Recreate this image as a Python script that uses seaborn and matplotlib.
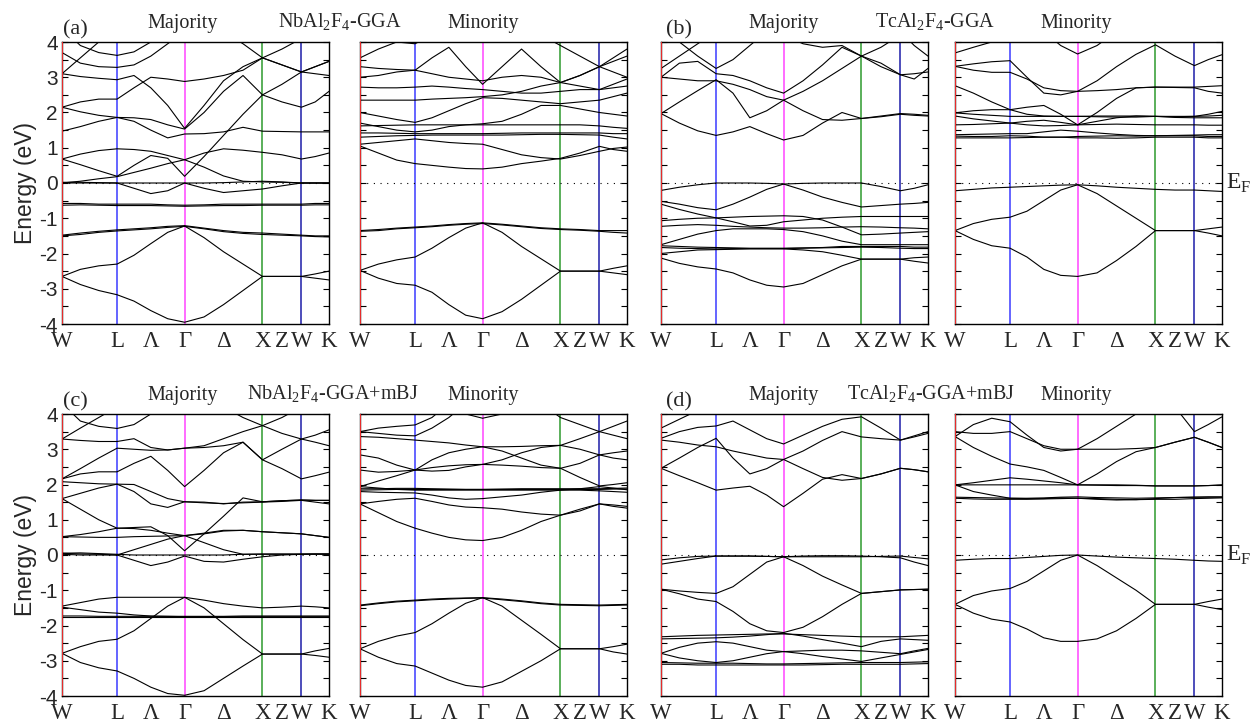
import numpy as np
import pandas as pd
import matplotlib
matplotlib.use('Agg')
import matplotlib.pyplot as plt
from matplotlib.ticker import MultipleLocator
import seaborn as sns

sns.set_theme(style='white')
plt.rcParams['font.family'] = ['Liberation Serif', 'DejaVu Serif']
plt.rcParams['mathtext.fontset'] = 'custom'
plt.rcParams['mathtext.rm'] = 'Liberation Serif'
plt.rcParams['axes.unicode_minus'] = False

# fcc path W-L-Gamma-X-W-K, segment lengths (2pi/a)
seg_len = [0.7071, 0.8660, 1.0, 0.5, 0.3536]
# where the band energies were read along each segment
seg_frac = [[0, 1/3, 2/3], [0, 1/4, 1/2, 3/4], [0, 1/4, 1/2, 3/4], [0, 1/2], [0, 1/2, 1]]
k_labels = ['W', 'L', 'Λ', 'Γ', 'Δ', 'X', 'Z', 'W', 'K']

# band energies (eV) at the 16 sampled k-points: W .. L .. G .. X Z W . K
a_maj = [
    [-2.65, -2.88, -3.05, -3.17, -3.35, -3.62, -3.85, -3.95, -3.8, -3.45, -3.05, -2.65, -2.65, -2.65, -2.7, -2.75],
    [-2.65, -2.45, -2.35, -2.3, -2.05, -1.72, -1.4, -1.22, -1.55, -1.95, -2.3, -2.65, -2.65, -2.65, -2.58, -2.5],
    [-1.48, -1.42, -1.37, -1.33, -1.3, -1.27, -1.23, -1.21, -1.28, -1.35, -1.4, -1.42, -1.45, -1.48, -1.5, -1.5],
    [-1.5, -1.46, -1.4, -1.36, -1.33, -1.3, -1.26, -1.23, -1.3, -1.38, -1.43, -1.46, -1.48, -1.5, -1.52, -1.53],
    [-0.58, -0.58, -0.6, -0.6, -0.6, -0.6, -0.62, -0.63, -0.62, -0.6, -0.6, -0.6, -0.6, -0.6, -0.58, -0.58],
    [-0.63, -0.62, -0.63, -0.64, -0.64, -0.64, -0.65, -0.66, -0.65, -0.64, -0.64, -0.63, -0.63, -0.63, -0.62, -0.62],
    [0.02, 0.02, 0.01, 0.0, 0.0, 0.0, 0.0, 0.0, 0.0, 0.01, 0.03, 0.05, 0.03, 0.0, 0.0, 0.0],
    [0.0, 0.0, 0.0, 0.0, -0.15, -0.3, -0.22, 0.0, -0.15, -0.27, -0.22, -0.17, -0.08, 0.0, 0.0, 0.0],
    [0.0, 0.05, 0.12, 0.18, 0.3, 0.42, 0.55, 0.66, 0.45, 0.2, 0.05, 0.03, 0.02, 0.0, 0.0, 0.0],
    [0.68, 0.52, 0.35, 0.19, 0.5, 0.78, 0.7, 0.19, 0.75, 1.35, 1.95, 2.5, 2.8, 3.15, 3.3, 3.45],
    [0.68, 0.82, 0.92, 0.97, 0.95, 0.9, 0.78, 0.66, 0.85, 0.97, 0.93, 0.87, 0.8, 0.68, 0.75, 0.85],
    [1.47, 1.6, 1.75, 1.86, 1.75, 1.5, 1.28, 1.39, 1.4, 1.45, 1.58, 1.47, 1.46, 1.45, 1.45, 1.45],
    [2.15, 2.02, 1.92, 1.86, 1.85, 1.8, 1.65, 1.53, 2.0, 2.6, 3.05, 2.5, 2.3, 2.15, 2.3, 2.6],
    [2.15, 2.3, 2.38, 2.38, 2.7, 3.0, 2.95, 2.88, 2.95, 3.05, 3.2, 3.55, 3.35, 3.15, 3.1, 3.05],
    [3.1, 3.02, 2.97, 2.93, 3.05, 2.7, 2.2, 1.55, 2.2, 2.9, 3.3, 3.55, 3.8, 4.1, 4.3, 4.5],
    [3.1, 3.55, 4.0, 4.4, 4.5, 4.5, 4.5, 4.5, 4.5, 4.5, 4.5, 4.5, 4.5, 4.5, 4.5, 4.5],
    [4.4, 3.9, 3.7, 3.62, 3.72, 4.0, 4.4, 4.5, 4.5, 4.5, 4.5, 4.5, 4.5, 4.5, 4.5, 4.5],
    [3.7, 3.4, 3.3, 3.28, 3.35, 3.6, 3.95, 4.3, 4.5, 4.5, 4.5, 4.5, 4.5, 4.5, 4.5, 4.5],
    [4.5, 4.5, 4.5, 4.5, 4.5, 4.5, 4.5, 4.5, 4.5, 4.3, 3.95, 3.55, 3.35, 3.15, 3.3, 3.45],
]
a_min = [
    [-2.48, -2.7, -2.85, -2.9, -3.1, -3.45, -3.75, -3.85, -3.65, -3.3, -2.9, -2.5, -2.5, -2.5, -2.55, -2.6],
    [-2.48, -2.3, -2.18, -2.1, -1.85, -1.55, -1.28, -1.13, -1.4, -1.8, -2.15, -2.5, -2.5, -2.5, -2.42, -2.35],
    [-1.35, -1.32, -1.28, -1.25, -1.22, -1.18, -1.15, -1.13, -1.17, -1.22, -1.27, -1.3, -1.32, -1.35, -1.35, -1.35],
    [-1.37, -1.35, -1.3, -1.27, -1.24, -1.2, -1.17, -1.15, -1.19, -1.24, -1.29, -1.32, -1.34, -1.37, -1.4, -1.42],
    [1.05, 0.85, 0.65, 0.55, 0.5, 0.45, 0.41, 0.4, 0.45, 0.55, 0.62, 0.7, 0.85, 1.04, 0.95, 0.9],
    [1.1, 1.15, 1.2, 1.25, 1.2, 1.15, 1.12, 1.1, 0.95, 0.8, 0.72, 0.68, 0.78, 0.9, 0.98, 1.02],
    [1.3, 1.32, 1.34, 1.35, 1.36, 1.36, 1.36, 1.36, 1.36, 1.37, 1.38, 1.38, 1.37, 1.36, 1.3, 1.25],
    [1.42, 1.42, 1.41, 1.4, 1.4, 1.4, 1.4, 1.4, 1.41, 1.42, 1.42, 1.42, 1.42, 1.42, 1.4, 1.4],
    [1.62, 1.63, 1.64, 1.65, 1.65, 1.65, 1.65, 1.65, 1.65, 1.65, 1.65, 1.65, 1.65, 1.62, 1.58, 1.55],
    [1.7, 1.6, 1.5, 1.45, 1.5, 1.6, 1.65, 1.68, 1.75, 1.95, 2.2, 2.2, 2.1, 2.0, 1.95, 1.9],
    [2.0, 1.9, 1.8, 1.72, 1.85, 2.05, 2.25, 2.42, 2.4, 2.35, 2.3, 2.25, 2.3, 2.35, 2.45, 2.55],
    [2.35, 2.35, 2.35, 2.35, 2.38, 2.4, 2.42, 2.45, 2.5, 2.6, 2.75, 2.85, 2.75, 2.65, 2.7, 2.75],
    [2.72, 2.7, 2.7, 2.72, 2.75, 2.72, 2.68, 2.65, 2.6, 2.55, 2.55, 2.6, 2.65, 2.65, 2.8, 2.95],
    [3.0, 3.05, 3.15, 3.2, 3.55, 3.85, 3.3, 2.8, 3.3, 3.8, 3.3, 2.85, 3.05, 3.3, 3.45, 3.6],
    [3.3, 3.25, 3.22, 3.2, 3.1, 3.0, 2.95, 2.9, 3.0, 3.05, 3.0, 2.85, 3.05, 3.3, 3.15, 3.0],
    [3.55, 3.8, 4.0, 3.95, 4.2, 4.5, 4.5, 4.5, 4.5, 4.5, 4.2, 3.9, 3.6, 3.3, 3.55, 3.8],
]
b_maj = [
    [-0.21, -0.12, -0.05, 0.0, 0.0, 0.0, -0.01, -0.03, -0.01, 0.0, 0.0, 0.0, -0.1, -0.22, -0.15, -0.05],
    [-0.52, -0.6, -0.7, -0.76, -0.6, -0.4, -0.18, -0.03, -0.2, -0.4, -0.55, -0.68, -0.64, -0.6, -0.58, -0.55],
    [-0.6, -0.75, -0.88, -0.99, -1.1, -1.22, -1.2, -1.1, -1.05, -1.0, -0.97, -0.95, -0.95, -0.95, -0.95, -0.95],
    [-1.07, -1.03, -1.0, -0.99, -0.97, -0.95, -0.94, -0.93, -0.95, -1.05, -1.25, -1.47, -1.45, -1.42, -1.4, -1.38],
    [-1.23, -1.2, -1.18, -1.2, -1.23, -1.25, -1.27, -1.28, -1.28, -1.27, -1.25, -1.24, -1.25, -1.27, -1.28, -1.3],
    [-1.75, -1.6, -1.45, -1.35, -1.3, -1.3, -1.3, -1.32, -1.38, -1.5, -1.65, -1.75, -1.75, -1.75, -1.75, -1.75],
    [-1.78, -1.8, -1.82, -1.83, -1.84, -1.85, -1.85, -1.85, -1.84, -1.83, -1.8, -1.8, -1.8, -1.8, -1.82, -1.82],
    [-1.83, -1.85, -1.86, -1.87, -1.86, -1.86, -1.86, -1.86, -1.85, -1.84, -1.83, -1.82, -1.83, -1.85, -1.86, -1.86],
    [-2.0, -1.95, -1.9, -1.89, -1.88, -1.87, -1.87, -1.87, -1.9, -1.95, -2.05, -2.16, -2.16, -2.16, -2.12, -2.1],
    [-2.13, -2.28, -2.38, -2.44, -2.55, -2.75, -2.9, -2.95, -2.85, -2.6, -2.35, -2.16, -2.16, -2.16, -2.22, -2.27],
    [1.97, 1.7, 1.48, 1.35, 1.45, 1.6, 1.4, 1.22, 1.35, 1.7, 2.0, 1.83, 1.88, 1.95, 1.92, 1.9],
    [1.97, 2.3, 2.62, 2.93, 2.55, 1.85, 2.05, 2.35, 2.05, 1.8, 1.78, 1.83, 1.9, 1.97, 1.95, 1.92],
    [3.0, 2.95, 2.9, 2.9, 2.8, 2.65, 2.45, 2.35, 2.6, 2.9, 3.25, 3.6, 3.3, 3.07, 3.1, 3.15],
    [3.0, 3.4, 3.45, 3.1, 3.05, 2.9, 2.7, 2.55, 2.9, 3.35, 3.85, 3.6, 3.4, 3.07, 2.95, 3.25],
    [3.25, 3.6, 3.95, 4.3, 4.5, 4.5, 4.5, 4.5, 4.5, 4.5, 4.5, 4.5, 4.5, 4.3, 3.9, 3.6],
    [4.4, 4.0, 3.6, 3.25, 3.5, 3.9, 4.3, 4.5, 4.5, 4.5, 4.5, 4.5, 4.5, 4.5, 4.5, 4.5],
    [4.5, 4.5, 4.5, 4.5, 4.5, 4.5, 4.5, 4.2, 3.95, 3.85, 3.9, 3.6, 3.85, 4.2, 4.5, 4.5],
]
b_min = [
    [-0.22, -0.18, -0.14, -0.12, -0.1, -0.08, -0.06, -0.05, -0.08, -0.12, -0.15, -0.18, -0.2, -0.2, -0.22, -0.24],
    [-1.35, -1.15, -1.03, -0.97, -0.8, -0.5, -0.2, -0.05, -0.3, -0.65, -1.0, -1.35, -1.35, -1.35, -1.3, -1.25],
    [-1.35, -1.6, -1.78, -1.85, -2.1, -2.45, -2.62, -2.65, -2.55, -2.2, -1.8, -1.35, -1.35, -1.35, -1.42, -1.5],
    [1.28, 1.28, 1.28, 1.28, 1.29, 1.3, 1.3, 1.28, 1.28, 1.27, 1.28, 1.3, 1.3, 1.3, 1.28, 1.28],
    [1.33, 1.32, 1.32, 1.34, 1.33, 1.3, 1.3, 1.32, 1.33, 1.34, 1.33, 1.34, 1.34, 1.34, 1.32, 1.32],
    [1.37, 1.38, 1.39, 1.4, 1.4, 1.45, 1.5, 1.47, 1.42, 1.38, 1.35, 1.34, 1.35, 1.36, 1.37, 1.37],
    [1.65, 1.66, 1.68, 1.7, 1.75, 1.78, 1.72, 1.65, 1.66, 1.67, 1.66, 1.65, 1.65, 1.65, 1.64, 1.64],
    [1.9, 1.82, 1.76, 1.7, 1.65, 1.62, 1.63, 1.65, 1.75, 1.85, 1.9, 1.89, 1.88, 1.89, 1.9, 1.92],
    [1.99, 1.95, 1.92, 1.89, 1.89, 1.89, 1.89, 1.89, 1.9, 1.9, 1.9, 1.89, 1.86, 1.85, 1.85, 1.85],
    [1.99, 2.05, 2.08, 2.08, 2.15, 2.2, 1.95, 1.65, 2.0, 2.4, 2.7, 2.72, 2.71, 2.7, 2.6, 2.55],
    [2.76, 2.55, 2.3, 2.08, 1.95, 1.9, 1.89, 1.89, 1.88, 1.87, 1.87, 1.89, 1.89, 1.89, 1.95, 2.03],
    [3.31, 3.2, 3.14, 3.14, 2.95, 2.7, 2.62, 2.6, 2.62, 2.65, 2.7, 2.72, 2.72, 2.72, 2.74, 2.76],
    [3.31, 3.38, 3.44, 3.47, 3.0, 2.55, 2.5, 2.6, 2.9, 3.3, 3.65, 3.92, 3.6, 3.33, 3.5, 3.64],
    [4.5, 4.5, 4.5, 4.5, 4.5, 4.3, 3.9, 3.66, 3.9, 4.3, 4.5, 4.5, 4.5, 4.5, 4.5, 4.5],
    [3.69, 3.85, 4.0, 4.2, 4.5, 4.5, 4.5, 4.5, 4.5, 4.5, 4.5, 4.5, 4.5, 4.5, 4.5, 4.5],
]
c_maj = [
    [-2.79, -3.05, -3.2, -3.29, -3.5, -3.75, -3.93, -3.98, -3.85, -3.5, -3.15, -2.81, -2.81, -2.81, -2.85, -2.9],
    [-2.79, -2.6, -2.45, -2.39, -2.15, -1.8, -1.45, -1.2, -1.5, -1.95, -2.4, -2.81, -2.81, -2.81, -2.72, -2.65],
    [-1.45, -1.35, -1.25, -1.2, -1.2, -1.2, -1.2, -1.2, -1.28, -1.38, -1.45, -1.5, -1.48, -1.45, -1.47, -1.5],
    [-1.48, -1.55, -1.62, -1.65, -1.7, -1.73, -1.74, -1.75, -1.75, -1.75, -1.75, -1.75, -1.75, -1.75, -1.75, -1.75],
    [-1.73, -1.73, -1.74, -1.74, -1.74, -1.74, -1.74, -1.74, -1.74, -1.74, -1.73, -1.73, -1.73, -1.73, -1.73, -1.73],
    [-1.77, -1.77, -1.77, -1.77, -1.77, -1.77, -1.77, -1.77, -1.77, -1.77, -1.77, -1.77, -1.77, -1.77, -1.77, -1.77],
    [0.05, 0.06, 0.04, 0.02, 0.0, 0.0, 0.0, 0.0, 0.0, 0.0, 0.02, 0.03, 0.03, 0.03, 0.03, 0.03],
    [0.05, 0.03, 0.02, 0.0, -0.15, -0.3, -0.2, -0.03, -0.18, -0.2, -0.12, -0.05, 0.0, 0.02, 0.03, 0.03],
    [0.02, 0.0, 0.0, 0.0, 0.15, 0.3, 0.45, 0.55, 0.35, 0.15, 0.02, 0.02, 0.02, 0.02, 0.02, 0.02],
    [0.52, 0.51, 0.5, 0.5, 0.52, 0.53, 0.54, 0.55, 0.62, 0.7, 0.7, 0.66, 0.63, 0.6, 0.55, 0.5],
    [0.52, 0.58, 0.66, 0.76, 0.78, 0.8, 0.55, 0.12, 0.6, 1.1, 1.62, 1.51, 1.54, 1.56, 1.55, 1.55],
    [1.6, 1.3, 1.0, 0.76, 0.75, 0.7, 0.62, 0.55, 0.6, 0.68, 0.7, 0.66, 0.63, 0.6, 0.55, 0.5],
    [1.6, 1.75, 1.9, 2.01, 1.8, 1.45, 1.35, 1.51, 1.5, 1.45, 1.5, 1.51, 1.54, 1.56, 1.55, 1.55],
    [2.08, 2.05, 2.02, 2.01, 2.0, 1.8, 1.6, 1.51, 1.48, 1.46, 1.48, 1.5, 1.52, 1.55, 1.5, 1.45],
    [2.16, 2.3, 2.36, 2.36, 2.6, 2.8, 2.4, 1.94, 2.4, 2.9, 3.2, 2.7, 2.45, 2.16, 2.25, 2.35],
    [2.16, 2.45, 2.75, 3.03, 3.0, 2.97, 2.98, 3.03, 3.05, 3.1, 3.2, 2.7, 3.0, 3.29, 3.2, 3.1],
    [3.29, 3.25, 3.22, 3.22, 3.3, 3.05, 2.98, 3.03, 3.1, 3.3, 3.5, 3.67, 3.45, 3.29, 3.4, 3.55],
    [3.29, 3.6, 3.9, 4.2, 4.5, 4.5, 4.5, 4.5, 4.5, 4.5, 4.5, 4.5, 4.5, 4.5, 4.5, 4.5],
    [4.3, 3.8, 3.65, 3.59, 3.7, 4.0, 4.4, 4.5, 4.5, 4.5, 4.5, 4.5, 4.5, 4.5, 4.5, 4.5],
    [4.5, 4.5, 4.5, 4.5, 4.5, 4.5, 4.5, 4.5, 4.5, 4.2, 3.9, 3.67, 3.9, 4.2, 4.5, 4.5],
]
c_min = [
    [-2.66, -2.9, -3.08, -3.15, -3.35, -3.55, -3.7, -3.75, -3.6, -3.3, -3.0, -2.66, -2.66, -2.66, -2.75, -2.81],
    [-2.66, -2.45, -2.3, -2.2, -1.95, -1.65, -1.37, -1.21, -1.45, -1.85, -2.25, -2.66, -2.66, -2.66, -2.6, -2.53],
    [-1.42, -1.36, -1.31, -1.28, -1.25, -1.23, -1.22, -1.21, -1.25, -1.3, -1.36, -1.4, -1.41, -1.42, -1.41, -1.4],
    [-1.44, -1.38, -1.33, -1.3, -1.27, -1.25, -1.23, -1.22, -1.27, -1.32, -1.38, -1.42, -1.43, -1.44, -1.43, -1.42],
    [1.45, 1.2, 0.95, 0.76, 0.62, 0.5, 0.43, 0.41, 0.5, 0.7, 0.95, 1.13, 1.25, 1.45, 1.38, 1.33],
    [1.45, 1.52, 1.58, 1.61, 1.52, 1.42, 1.36, 1.34, 1.3, 1.22, 1.16, 1.13, 1.3, 1.45, 1.42, 1.38],
    [1.84, 1.85, 1.86, 1.86, 1.86, 1.86, 1.86, 1.86, 1.86, 1.86, 1.86, 1.86, 1.86, 1.86, 1.87, 1.87],
    [1.88, 1.88, 1.89, 1.89, 1.88, 1.87, 1.86, 1.86, 1.87, 1.88, 1.88, 1.88, 1.88, 1.88, 1.89, 1.9],
    [1.94, 1.9, 1.86, 1.84, 1.84, 1.84, 1.84, 1.84, 1.84, 1.84, 1.84, 1.84, 1.84, 1.82, 1.8, 1.78],
    [1.8, 1.78, 1.77, 1.76, 1.7, 1.62, 1.58, 1.6, 1.65, 1.7, 1.78, 1.84, 1.88, 1.94, 1.9, 1.85],
    [1.94, 2.1, 2.25, 2.41, 2.48, 2.53, 2.56, 2.57, 2.55, 2.52, 2.48, 2.46, 2.2, 1.96, 2.0, 2.05],
    [2.41, 2.35, 2.37, 2.41, 2.7, 2.9, 3.0, 3.07, 2.95, 2.75, 2.55, 2.46, 2.6, 2.84, 2.75, 2.7],
    [2.84, 2.75, 2.55, 2.41, 2.38, 2.4, 2.5, 2.57, 2.7, 2.9, 3.05, 3.11, 3.0, 2.84, 2.9, 2.95],
    [3.36, 3.34, 3.3, 3.26, 3.22, 3.18, 3.12, 3.07, 3.07, 3.08, 3.1, 3.11, 3.3, 3.5, 3.4, 3.3],
    [3.5, 3.45, 3.4, 3.38, 3.6, 3.9, 4.3, 4.5, 4.5, 4.5, 4.3, 3.9, 3.7, 3.5, 3.65, 3.8],
    [3.5, 3.6, 3.65, 3.69, 3.9, 4.3, 4.5, 4.5, 4.5, 4.5, 4.5, 4.5, 4.5, 4.5, 4.5, 4.5],
    [4.5, 4.5, 4.5, 4.5, 4.5, 4.3, 4.0, 3.88, 4.0, 4.3, 4.5, 4.5, 4.5, 4.5, 4.5, 4.5],
]
d_maj = [
    [-0.14, -0.08, -0.04, -0.03, -0.03, -0.03, -0.04, -0.05, -0.05, -0.05, -0.05, -0.05, -0.04, -0.03, -0.07, -0.11],
    [-0.26, -0.18, -0.1, -0.03, -0.03, -0.03, -0.04, -0.05, -0.03, -0.02, -0.02, -0.03, -0.05, -0.08, -0.2, -0.3],
    [-0.97, -1.02, -1.06, -1.09, -0.9, -0.55, -0.2, -0.05, -0.3, -0.6, -0.85, -1.09, -1.04, -0.99, -0.98, -0.97],
    [-0.97, -1.1, -1.25, -1.32, -1.6, -1.95, -2.15, -2.2, -2.05, -1.75, -1.4, -1.09, -1.04, -0.99, -0.98, -0.97],
    [-2.32, -2.3, -2.28, -2.27, -2.26, -2.25, -2.24, -2.24, -2.26, -2.28, -2.3, -2.32, -2.32, -2.32, -2.3, -2.28],
    [-2.38, -2.37, -2.36, -2.35, -2.33, -2.3, -2.26, -2.22, -2.3, -2.4, -2.5, -2.6, -2.45, -2.38, -2.4, -2.42],
    [-2.79, -2.62, -2.5, -2.46, -2.5, -2.6, -2.7, -2.74, -2.72, -2.7, -2.7, -2.72, -2.76, -2.8, -2.72, -2.65],
    [-2.79, -2.92, -3.0, -3.05, -3.0, -2.9, -2.8, -2.74, -2.8, -2.88, -2.95, -3.02, -2.92, -2.82, -2.75, -2.68],
    [-3.05, -3.06, -3.07, -3.07, -3.07, -3.08, -3.09, -3.09, -3.08, -3.07, -3.06, -3.05, -3.05, -3.05, -3.04, -3.03],
    [-3.1, -3.1, -3.12, -3.12, -3.12, -3.12, -3.12, -3.12, -3.12, -3.11, -3.1, -3.1, -3.1, -3.1, -3.09, -3.08],
    [2.46, 2.25, 2.05, 1.84, 1.9, 1.95, 1.7, 1.37, 1.75, 2.15, 2.28, 2.17, 2.3, 2.46, 2.42, 2.36],
    [2.46, 2.75, 3.05, 3.31, 2.75, 2.3, 2.45, 2.71, 2.45, 2.2, 2.12, 2.17, 2.3, 2.46, 2.42, 2.36],
    [3.26, 3.2, 3.12, 3.07, 2.95, 2.85, 2.75, 2.71, 2.95, 3.25, 3.5, 3.35, 3.3, 3.26, 3.38, 3.5],
    [3.31, 3.5, 3.62, 3.66, 3.8, 3.55, 3.3, 3.15, 3.4, 3.65, 3.85, 3.92, 3.6, 3.26, 3.35, 3.45],
    [3.6, 3.85, 4.1, 4.4, 4.5, 4.5, 4.5, 4.5, 4.5, 4.5, 4.5, 4.5, 4.5, 4.5, 4.5, 4.5],
]
d_min = [
    [-0.15, -0.12, -0.1, -0.1, -0.07, -0.04, -0.01, 0.0, -0.03, -0.06, -0.08, -0.1, -0.12, -0.15, -0.17, -0.18],
    [-1.4, -1.15, -1.02, -0.95, -0.75, -0.45, -0.15, 0.0, -0.3, -0.65, -1.0, -1.4, -1.4, -1.4, -1.32, -1.25],
    [-1.4, -1.65, -1.82, -1.9, -2.1, -2.35, -2.45, -2.45, -2.38, -2.15, -1.8, -1.4, -1.4, -1.4, -1.48, -1.55],
    [1.61, 1.59, 1.58, 1.58, 1.58, 1.59, 1.6, 1.61, 1.6, 1.58, 1.57, 1.58, 1.58, 1.6, 1.61, 1.62],
    [1.64, 1.63, 1.62, 1.61, 1.61, 1.62, 1.64, 1.65, 1.63, 1.62, 1.61, 1.62, 1.63, 1.64, 1.65, 1.65],
    [1.99, 1.8, 1.7, 1.61, 1.6, 1.6, 1.62, 1.61, 1.58, 1.56, 1.57, 1.6, 1.63, 1.64, 1.64, 1.64],
    [1.99, 2.05, 2.12, 2.19, 2.15, 2.1, 2.05, 1.99, 1.98, 1.97, 1.97, 1.96, 1.96, 1.96, 1.97, 1.98],
    [1.99, 1.99, 1.99, 1.99, 1.99, 1.99, 1.99, 1.99, 1.99, 1.99, 1.98, 1.96, 1.96, 1.96, 1.97, 1.99],
    [3.36, 3.05, 2.8, 2.58, 2.5, 2.4, 2.2, 1.99, 2.3, 2.65, 2.93, 3.05, 3.2, 3.34, 3.2, 3.05],
    [3.36, 3.7, 3.88, 3.78, 3.4, 3.05, 2.95, 3.0, 3.0, 3.0, 3.02, 3.05, 3.2, 3.34, 3.2, 3.05],
    [3.5, 3.45, 3.45, 3.5, 3.3, 3.1, 3.0, 3.0, 3.3, 3.65, 4.0, 4.4, 4.2, 3.5, 3.7, 3.92],
]

panels = [
    # (bands, left px, top px, show y labels, show E_F)
    (a_maj, 62, 42, True, False), (a_min, 360, 42, False, False),
    (b_maj, 661, 42, False, False), (b_min, 955, 42, False, True),
    (c_maj, 62, 414, True, False), (c_min, 360, 414, False, False),
    (d_maj, 661, 414, False, False), (d_min, 955, 414, False, True),
]

W, H = 1258, 726
fig = plt.figure(figsize=(W / 100, H / 100), dpi=100)

# k coordinates
nodes = np.concatenate([[0], np.cumsum(seg_len)])
kpts = []
for i, fr in enumerate(seg_frac):
    for f in fr:
        kpts.append(nodes[i] + f * seg_len[i])
kpts = np.array(kpts)
tick_pos = [nodes[0], nodes[1], (nodes[1] + nodes[2]) / 2, nodes[2], (nodes[2] + nodes[3]) / 2,
            nodes[3], (nodes[3] + nodes[4]) / 2, nodes[4], nodes[5]]
vcolors = ['#ff3030', '#3b3bff', '#ff44ff', '#2e9a2e', '#1c1ca8']
sans_narrow = ['Liberation Sans Narrow', 'Liberation Sans']

for bands, px, py, ylab, ef in panels:
    ax = fig.add_axes([px / W, 1 - (py + 282) / H, 267 / W, 282 / H])
    rows = []
    for b, e in enumerate(bands):
        for k, v in zip(kpts, e):
            rows.append((b, k, v))
    df = pd.DataFrame(rows, columns=['band', 'k', 'E'])
    for i, c in enumerate(vcolors):
        ax.axvline(nodes[i], color=c, lw=1.3 if i == 0 else 1.1, zorder=3 if i == 0 else 1)
    sns.lineplot(data=df, x='k', y='E', units='band', estimator=None, sort=False,
                 color='black', lw=0.8, ax=ax, legend=False, zorder=2)
    ax.axhline(0, color='black', ls=(0, (1, 5)), lw=0.8, zorder=2)
    ax.set_xlim(nodes[0], nodes[-1])
    ax.set_ylim(-4, 4)
    ax.set_xlabel('')
    ax.set_ylabel('')
    ax.set_xticks(tick_pos)
    ax.set_xticklabels(k_labels, fontsize=16.5)
    ax.tick_params(axis='x', length=0, pad=5)
    ax.yaxis.set_major_locator(MultipleLocator(1))
    ax.yaxis.set_minor_locator(MultipleLocator(0.5))
    ax.tick_params(axis='y', which='both', direction='in', left=True, right=True,
                   length=4, width=0.8, color='black', labelleft=ylab, pad=3)
    if ylab:
        for t in ax.get_yticklabels():
            t.set_fontfamily(sans_narrow)
            t.set_fontsize(15)
        ax.set_ylabel('Energy (eV)', fontsize=16.5, family=sans_narrow, labelpad=2)
    for s in ax.spines.values():
        s.set_color('black')
        s.set_linewidth(1.0)
    if ef:
        ax.text(1.015, 0.5, r'E$_\mathrm{F}$', transform=ax.transAxes, fontsize=17,
                ha='left', va='center')

# titles
def ftext(x, y, s, size=14.5):
    fig.text(x / W, 1 - y / H, s, fontsize=size, ha='left', va='baseline')

for y0, lab1, lab2, f1, f2, fx1, fx2 in [
        (28, '(a)', '(b)', r'NbAl$_\mathrm{2}$F$_\mathrm{4}$-GGA', r'TcAl$_\mathrm{2}$F$_\mathrm{4}$-GGA', 278, 875),
        (400, '(c)', '(d)', r'NbAl$_\mathrm{2}$F$_\mathrm{4}$-GGA+mBJ', r'TcAl$_\mathrm{2}$F$_\mathrm{4}$-GGA+mBJ', 247, 847)]:
    ftext(63, y0 + 6, lab1, 16)
    ftext(666, y0 + 6, lab2, 16)
    ftext(147, y0, 'Majority')
    ftext(748, y0, 'Majority')
    ftext(447, y0, 'Minority')
    ftext(1040, y0, 'Minority')
    ftext(fx1, y0, f1)
    ftext(fx2, y0, f2)

fig.savefig('out.png', dpi=100)
